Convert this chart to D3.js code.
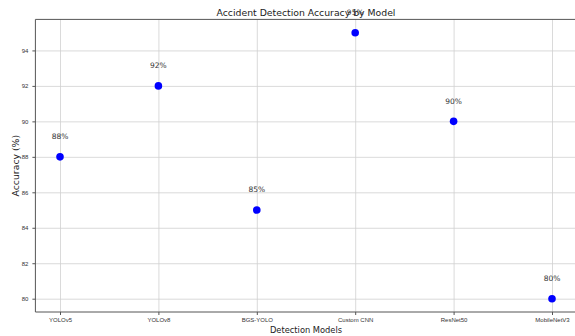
<!DOCTYPE html>
<html>
<head>
<meta charset="utf-8">
<script src="https://cdn.jsdelivr.net/npm/d3@7"></script>
<style>
  body { margin: 0; background: #fff; }
  svg { font-family: "DejaVu Sans", sans-serif; display: block; }
  .grid line { stroke: #d0d0d0; stroke-width: 0.8; }
  .grid .domain { display: none; }
  .axis text { fill: #333; font-size: 6px; }
  .axis line { stroke: #555; }
</style>
</head>
<body>
<svg id="chart" width="575" height="336"></svg>
<script>
// Data
var models = ['YOLOv5', 'YOLOv8', 'BGS-YOLO', 'Custom CNN', 'ResNet50', 'MobileNetV3'];
var accuracy = [88, 92, 85, 95, 90, 80];
var yTicks = [80, 82, 84, 86, 88, 90, 92, 94];

var svg = d3.select('#chart');
// plot area (note: "top" is a reserved window property, so use m*)
var mLeft = 35.4, mTop = 19.4, mRight = 576.6, mBottom = 312;

// Scales (matplotlib style 5% margins)
var xScale = d3.scaleLinear().domain([-0.25, models.length - 0.75]).range([mLeft, mRight]);
var yScale = d3.scaleLinear().domain([79.25, 95.75]).range([mBottom, mTop]);

// Grid:
svg.append('g').classed('grid', true)
   .attr('transform', 'translate(0,' + mBottom + ')')
   .call(d3.axisBottom(xScale).tickValues(d3.range(models.length)).tickSize(-(mBottom - mTop)).tickFormat(''));
svg.append('g').classed('grid', true)
   .attr('transform', 'translate(' + mLeft + ',0)')
   .call(d3.axisLeft(yScale).tickValues(yTicks).tickSize(-(mRight - mLeft)).tickFormat(''));

// Axes:
var xAxis = svg.append('g').classed('axis', true)
   .attr('transform', 'translate(0,' + mBottom + ')')
   .call(d3.axisBottom(xScale).tickValues(d3.range(models.length))
         .tickSize(3).tickPadding(3).tickFormat((d) => models[d]));
var yAxis = svg.append('g').classed('axis', true)
   .attr('transform', 'translate(' + mLeft + ',0)')
   .call(d3.axisLeft(yScale).tickValues(yTicks).tickSize(3).tickPadding(4));
xAxis.select('.domain').remove();
yAxis.select('.domain').remove();

// Spines:
svg.append('path')
   .attr('d', 'M' + mRight + ',' + mTop + 'H' + mLeft + 'V' + mBottom + 'H' + mRight)
   .attr('fill', 'none').attr('stroke', '#555').attr('stroke-width', 1);

// Points:
svg.selectAll('circle.pt').data(accuracy).enter().append('circle')
   .classed('pt', true)
   .attr('cx', (d, i) => xScale(i))
   .attr('cy', (d) => yScale(d))
   .attr('r', 3.8)
   .attr('fill', '#0000ff');

// Labels:
svg.selectAll('text.lbl').data(accuracy).enter().append('text')
   .classed('lbl', true)
   .attr('x', (d, i) => xScale(i))
   .attr('y', (d) => yScale(d + 1))
   .attr('text-anchor', 'middle')
   .attr('font-size', 7.5)
   .attr('fill', '#333')
   .text((d) => d + '%');

// Title and axis labels:
svg.append('text').attr('x', (mLeft + mRight) / 2).attr('y', 16)
   .attr('text-anchor', 'middle').attr('font-size', 9.3).attr('fill', '#222')
   .text('Accident Detection Accuracy by Model');
svg.append('text').attr('x', (mLeft + mRight) / 2).attr('y', 333)
   .attr('text-anchor', 'middle').attr('font-size', 8.3).attr('fill', '#222')
   .text('Detection Models');
svg.append('text')
   .attr('transform', 'translate(19,' + ((mTop + mBottom) / 2) + ') rotate(-90)')
   .attr('text-anchor', 'middle').attr('font-size', 9.3).attr('fill', '#222')
   .text('Accuracy (%)');
</script>
</body>
</html>
